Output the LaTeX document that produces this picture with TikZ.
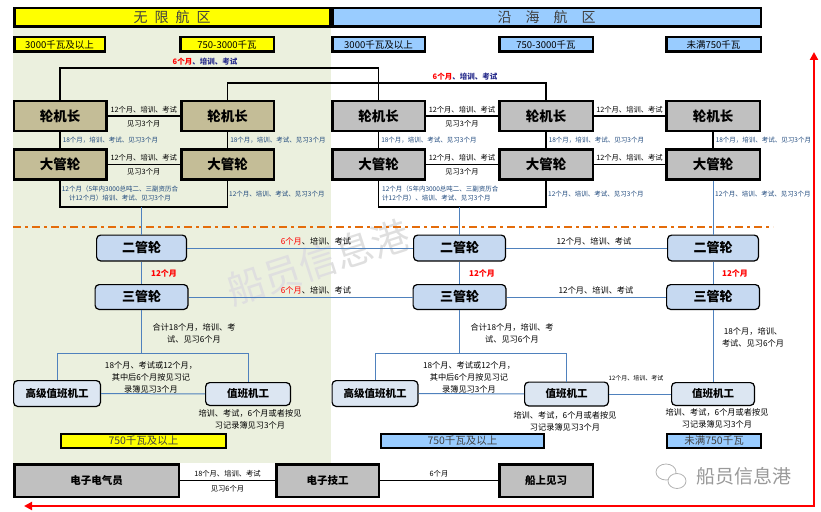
\documentclass[tikz,border=0pt]{standalone}
\usepackage{fontspec}
\setmainfont{Noto Sans CJK SC}
\usetikzlibrary{arrows.meta}

\definecolor{hyellow}{RGB}{255,255,0}
\definecolor{hblue}{RGB}{153,204,255}
\definecolor{tanfill}{RGB}{196,189,151}
\definecolor{greyfill}{RGB}{192,192,192}
\definecolor{bggreen}{RGB}{235,240,222}
\definecolor{cblue}{RGB}{198,217,241}
\definecolor{pale}{RGB}{220,230,242}
\definecolor{lineblue}{RGB}{79,129,189}
\definecolor{navy}{RGB}{31,73,125}
\definecolor{darkblue}{RGB}{40,45,140}
\definecolor{orangeline}{RGB}{228,108,10}

\begin{document}
\begin{tikzpicture}[x=1pt,y=-1pt,
  hdr/.style={draw,line width=2.5pt,minimum height=18.5pt,inner sep=0pt,text=black!75,font=\fontsize{14}{14}\selectfont},
  cls/.style={draw,line width=2.5pt,minimum height=14.5pt,inner sep=0pt,font=\fontsize{9.5}{9.5}\selectfont},
  power/.style={draw,line width=2pt,minimum height=14pt,inner sep=0pt,text=black!75,font=\fontsize{10.5}{10.5}\selectfont},
  eng/.style={draw,line width=2.5pt,minimum height=30pt,inner sep=0pt,font=\fontsize{13.5}{13.5}\selectfont\bfseries},
  rbox/.style={draw,line width=1.2pt,rounded corners=4pt,inner sep=0pt,font=\fontsize{13}{13}\selectfont\bfseries},
  wbox/.style={draw,line width=1.2pt,rounded corners=4pt,fill=pale,inner sep=0pt,font=\fontsize{10.5}{10.5}\selectfont\bfseries},
  lbl/.style={inner sep=0pt,align=center,font=\fontsize{7.3}{9}\selectfont},
  lab/.style={inner sep=0pt,align=center,font=\fontsize{8.2}{12}\selectfont},
  tiny/.style={inner sep=0pt,align=left,text=navy,font=\fontsize{6.5}{9}\selectfont},
  kline/.style={line width=1.5pt},
  bline/.style={draw=lineblue,line width=1pt}]

\useasboundingbox (0,0) rectangle (821,511);
\fill[bggreen] (13,28) rectangle (331,463);

% Filigrane
\node[rotate=18,text=gray!25,font=\fontsize{38}{38}\selectfont] (wm) at (318,262) {船员信息港};

% Zones
\node[hdr,fill=hyellow,minimum width=315.5pt] (h1) at (172,17.5) {无\hspace{7pt}限\hspace{7pt}航\hspace{7pt}区};
\node[hdr,fill=hblue,minimum width=428.5pt] (h2) at (546.5,17.5) {沿\hspace{14pt}海\hspace{14pt}航\hspace{14pt}区};

\node[cls,fill=hyellow,minimum width=90.5pt] (c1) at (59.5,44.5) {3000千瓦及以上};
\node[cls,fill=hyellow,minimum width=93.5pt] (c2) at (227,44.5) {750-3000千瓦};
\node[cls,fill=hblue,minimum width=92.5pt] (c3) at (378.5,44.5) {3000千瓦及以上};
\node[cls,fill=hblue,minimum width=93.5pt] (c4) at (546,44.5) {750-3000千瓦};
\node[cls,fill=hblue,minimum width=94.5pt] (c5) at (713.5,44.5) {未满750千瓦};

%轮机长 / 大管轮
\node[eng,fill=tanfill,minimum width=92.5pt] (lj1) at (60,116) {轮机长};
\node[eng,fill=tanfill,minimum width=92.5pt] (lj2) at (227.5,116) {轮机长};
\node[eng,fill=greyfill,minimum width=92.5pt] (lc1) at (378.5,116) {轮机长};
\node[eng,fill=greyfill,minimum width=93.5pt] (lc2) at (546,116) {轮机长};
\node[eng,fill=greyfill,minimum width=93.5pt] (lc3) at (713,116) {轮机长};

\node[eng,fill=tanfill,minimum width=92.5pt] (dj1) at (60,164.5) {大管轮};
\node[eng,fill=tanfill,minimum width=92.5pt] (dj2) at (227.5,164.5) {大管轮};
\node[eng,fill=greyfill,minimum width=92.5pt] (dc1) at (378.5,164.5) {大管轮};
\node[eng,fill=greyfill,minimum width=93.5pt] (dc2) at (546,164.5) {大管轮};
\node[eng,fill=greyfill,minimum width=93.5pt] (dc3) at (713,164.5) {大管轮};

% Liaisons du haut
\coordinate (t1) at (0,68);
\coordinate (t2) at (0,83);
\draw[line width=1.2pt] (lj1.north) -- (lj1.north |- t1) -| (lc1.north);
\draw[line width=1.2pt] (lj2.north) -- (lj2.north |- t2) -| (lc2.north);
\node[inner sep=0pt,font=\fontsize{7.5}{7.5}\selectfont\bfseries] (tl1) at (205,62) {\textcolor{red}{6个月}\textcolor{darkblue}{、培训、考试}};
\node[inner sep=0pt,font=\fontsize{7.5}{7.5}\selectfont\bfseries] (tl2) at (465,77) {\textcolor{red}{6个月}\textcolor{darkblue}{、培训、考试}};

\foreach \a/\b in {lj1/lj2,lc1/lc2,dj1/dj2,dc1/dc2}
  \draw[kline] (\a) -- node[lbl,above=2.5pt]{12个月、培训、考试} node[lbl,below=3.5pt]{见习3个月} (\b);
\foreach \a/\b in {lc2/lc3,dc2/dc3}
  \draw[kline] (\a) -- node[lbl,above=2.5pt]{12个月、培训、考试} (\b);
\foreach \n in {j1,j2,c1,c2,c3}
  \draw[kline] (l\n) -- node[tiny,right=2pt]{18个月，培训、考试、见习3个月} (d\n);

% Sous les 大管轮
\coordinate (b1) at (0,207);
\draw[kline] (dj1.south) -- (dj1.south |- b1) -| (dj2.south);
\draw[kline] (dc1.south) -- (dc1.south |- b1) -| (dc2.south);
\node[tiny,align=center] (n1) at (120,193.5) {12个月（5年内3000总吨二、三副资历合\\计12个月）培训、考试、见习3个月};
\node[tiny,anchor=west] (n2) at (229,194) {12个月、培训、考试、见习3个月};
\node[tiny,anchor=west] (n3) at (382,193.5) {12个月（5年内3000总吨二、三副资历合\\计12个月）、培训、考试、见习3个月};
\node[tiny,anchor=west] (n4) at (548,194) {12个月、培训、考试、见习3个月};
\node[tiny,anchor=west] (n5) at (715,194) {12个月、培训、考试、见习3个月};

\draw[orangeline,line width=1.5pt,dash pattern=on 8pt off 4pt on 3pt off 4pt] (13,227) -- (773,227);

% 二管轮 / 三管轮
\node[rbox,fill=cblue,minimum width=89.8pt,minimum height=25.8pt] (e1) at (141.5,248) {二管轮};
\node[rbox,fill=cblue,minimum width=91.8pt,minimum height=25.8pt] (e2) at (459.5,248) {二管轮};
\node[rbox,fill=cblue,minimum width=90.8pt,minimum height=25.8pt] (e3) at (713,248) {二管轮};
\node[rbox,fill=cblue,minimum width=92.8pt,minimum height=24.8pt] (s1) at (141.5,297) {三管轮};
\node[rbox,fill=cblue,minimum width=92.8pt,minimum height=24.8pt] (s2) at (459.5,297) {三管轮};
\node[rbox,fill=cblue,minimum width=92.8pt,minimum height=24.8pt] (s3) at (713,297) {三管轮};

\draw[bline] (e1.north) -- (e1.north |- b1);
\draw[bline] (e2.north) -- (e2.north |- b1);
\draw[bline] (dc3) -- (e3);
\draw[bline] (e1) -- (e2);
\draw[bline] (e2) -- (e3);
\draw[bline] (s1) -- (s2);
\draw[bline] (s2) -- (s3);
\foreach \i/\x in {1/164,2/482,3/735}{
  \draw[bline] (e\i) -- (s\i);
  \node[inner sep=0pt,text=red,font=\fontsize{8}{8}\selectfont\bfseries] (m\i) at (\x,273) {12个月};
}
\node[lab] (p1) at (316,241) {\textcolor{red}{6个月}、培训、考试};
\node[lab] (p2) at (594,241) {12个月、培训、考试};
\node[lab] (p3) at (316,290) {\textcolor{red}{6个月}、培训、考试};
\node[lab] (p4) at (596,290) {12个月、培训、考试};

% Machinistes
\node[wbox,minimum width=86.8pt,minimum height=25.8pt] (g1) at (57,393.5) {高级值班机工};
\node[wbox,minimum width=84.8pt,minimum height=22.8pt] (w1) at (248,394) {值班机工};
\node[wbox,minimum width=85.8pt,minimum height=25.8pt] (g2) at (375,393.5) {高级值班机工};
\node[wbox,minimum width=83.8pt,minimum height=23.8pt] (w2) at (566.5,394) {值班机工};
\node[wbox,minimum width=82.8pt,minimum height=22.8pt] (w3) at (713,394) {值班机工};

\coordinate (b2) at (0,353);
\draw[bline] (s1.south) -- (s1.south |- b2);
\draw[bline] (g1.north) -- (g1.north |- b2) -| (w1.north);
\draw[bline] (s2.south) -- (s2.south |- b2);
\draw[bline] (g2.north) -- (g2.north |- b2) -| (w2.north);
\draw[bline] (s3) -- (w3);
\draw[bline] (g1) -- (w1);
\draw[bline] (g2) -- (w2);
\draw[bline] (w2) -- (w3);

\node[lab] (q1) at (194,333) {合计18个月，培训、考\\试、见习6个月};
\node[lab] (q2) at (512,333) {合计18个月，培训、考\\试、见习6个月};
\node[lab] (q3) at (753,337.5) {18个月，培训、\\考试、见习6个月};
\node[lab] (r1) at (151,377) {18个月、考试或12个月，\\其中后6个月按见习记\\录簿见习3个月};
\node[lab] (r2) at (469,377) {18个月、考试或12个月，\\其中后6个月按见习记\\录簿见习3个月};
\node[inner sep=0pt,font=\fontsize{6}{6}\selectfont] (r3) at (636,378) {12个月、培训、考试};
\node[lab] (u1) at (250,419) {培训、考试，6个月或者按见\\习记录簿见习3个月};
\node[lab] (u2) at (565,421) {培训、考试，6个月或者按见\\习记录簿见习3个月};
\node[lab] (u3) at (717,418) {培训、考试，6个月或者按见\\习记录簿见习3个月};

\node[power,fill=hyellow,minimum width=165pt] (k1) at (143.5,440.5) {750千瓦及以上};
\node[power,fill=hblue,minimum width=163pt] (k2) at (462.5,440.5) {750千瓦及以上};
\node[power,fill=hblue,minimum width=94pt] (k3) at (714,440.5) {未满750千瓦};

% Electriciens
\node[eng,fill=greyfill,minimum width=164.5pt,minimum height=32.5pt,font=\fontsize{10.5}{10.5}\selectfont\bfseries] (el1) at (96.5,480.5) {电子电气员};
\node[eng,fill=greyfill,minimum width=102.5pt,minimum height=32.5pt,font=\fontsize{10.5}{10.5}\selectfont\bfseries] (el2) at (327.5,480.5) {电子技工};
\node[eng,fill=greyfill,minimum width=93.5pt,minimum height=32.5pt,font=\fontsize{10.5}{10.5}\selectfont\bfseries] (el3) at (546,480.5) {船上见习};
\draw[kline] (el1) -- node[lbl,above=3pt]{18个月、培训、考试} node[lbl,below=4pt]{见习6个月} (el2);
\draw[kline] (el2) -- node[lbl,above=3pt]{6个月} (el3);

% Fleche rouge
\coordinate (ra) at (24,506);
\coordinate (rb) at (814,506);
\coordinate (rc) at (814,52);
\draw[red,line width=2.5pt,{Triangle[length=8pt,width=8pt]}-{Triangle[length=8pt,width=8pt]}] (ra) -- (rb) -- (rc);

% Logo
\draw[gray!60,line width=0.8pt] (666,472) ellipse (10pt and 8pt);
\draw[gray!60,line width=0.8pt,fill=white] (677,481) ellipse (9pt and 7.5pt);
\node[text=gray!80,font=\fontsize{19}{19}\selectfont] (logo) at (744,476) {船员信息港};
\end{tikzpicture}
\end{document}
